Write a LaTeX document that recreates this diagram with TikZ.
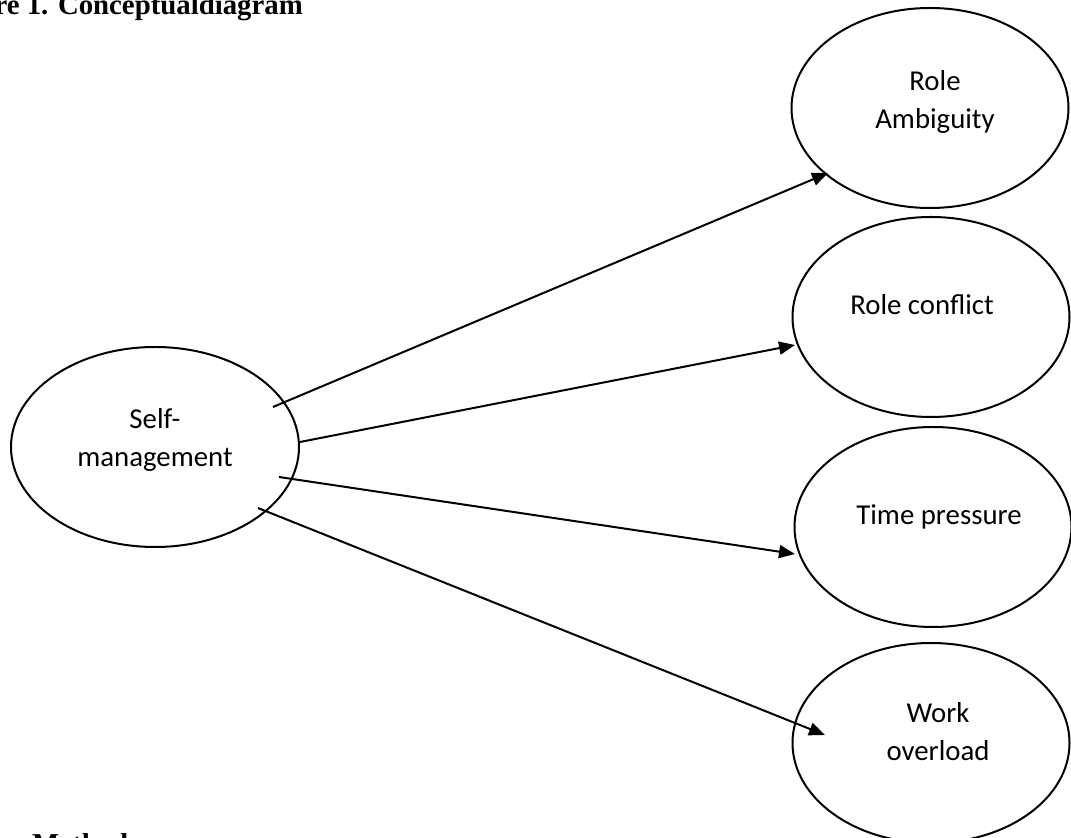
\documentclass[tikz,border=0pt]{standalone}
\usepackage{fontspec}
\setmainfont{Liberation Serif}
\newfontfamily\bodyfont{Carlito}
\usetikzlibrary{shapes.geometric,arrows.meta,calc}
\begin{document}
\begin{tikzpicture}[x=1pt,y=1pt,
  bubble/.style={draw, ellipse, line width=2pt, inner sep=0pt, minimum width=277pt, minimum height=200pt},
  label text/.style={inner sep=0pt, align=center, font=\bodyfont\fontsize{28.8}{38}\selectfont},
  heading/.style={inner sep=0pt, font=\bfseries\fontsize{28.8}{32}\selectfont},
  link/.style={line width=2pt, -{Triangle[length=16pt,width=13pt]}}]
\useasboundingbox (0,0) rectangle (1071,838);
% ellipses
\node[bubble, minimum width=288pt] (sm) at (155,391) {};
\node[bubble] (ra) at (930,730) {};
\node[bubble] (rc) at (931,521) {};
\node[bubble] (tp) at (933,311) {};
\node[bubble] (wo) at (931,95) {};
% texts
\node[label text] (smt) at ($(sm)+(0,7.5)$) {Self-\\management};
\node[label text] (rat) at ($(ra)+(5,6.5)$) {Role\\Ambiguity};
\node[label text, anchor=base] (rct) at ($(rc)+(-9,2)$) {Role conflict};
\node[label text, anchor=base] (tpt) at ($(tp)+(6,2)$) {Time pressure};
\node[label text] (wot) at ($(wo)+(7,11.5)$) {Work\\overload};
% headings (cut by the page edge as in the reference)
\node[heading, anchor=base east] (title) at (303,823.5) {Figure 1. Conceptualdiagram};
\node[heading, anchor=base west] (method) at (32,-16) {Method};
% connector end points
\coordinate (s1) at ($(sm)+(118,40)$);
\coordinate (s2) at ($(sm)+(145,5)$);
\coordinate (s3) at ($(sm)+(124,-30)$);
\coordinate (s4) at ($(sm)+(103,-61)$);
\coordinate (e1) at ($(ra)+(-102,-65)$);
\coordinate (e2) at ($(rc)+(-136,-28)$);
\coordinate (e3) at ($(tp)+(-138,-27)$);
\coordinate (e4) at ($(wo)+(-106,8)$);
\draw[link] (s1) -- (e1);
\draw[link] (s2) -- (e2);
\draw[link] (s3) -- (e3);
\draw[link] (s4) -- (e4);
\end{tikzpicture}
\end{document}
